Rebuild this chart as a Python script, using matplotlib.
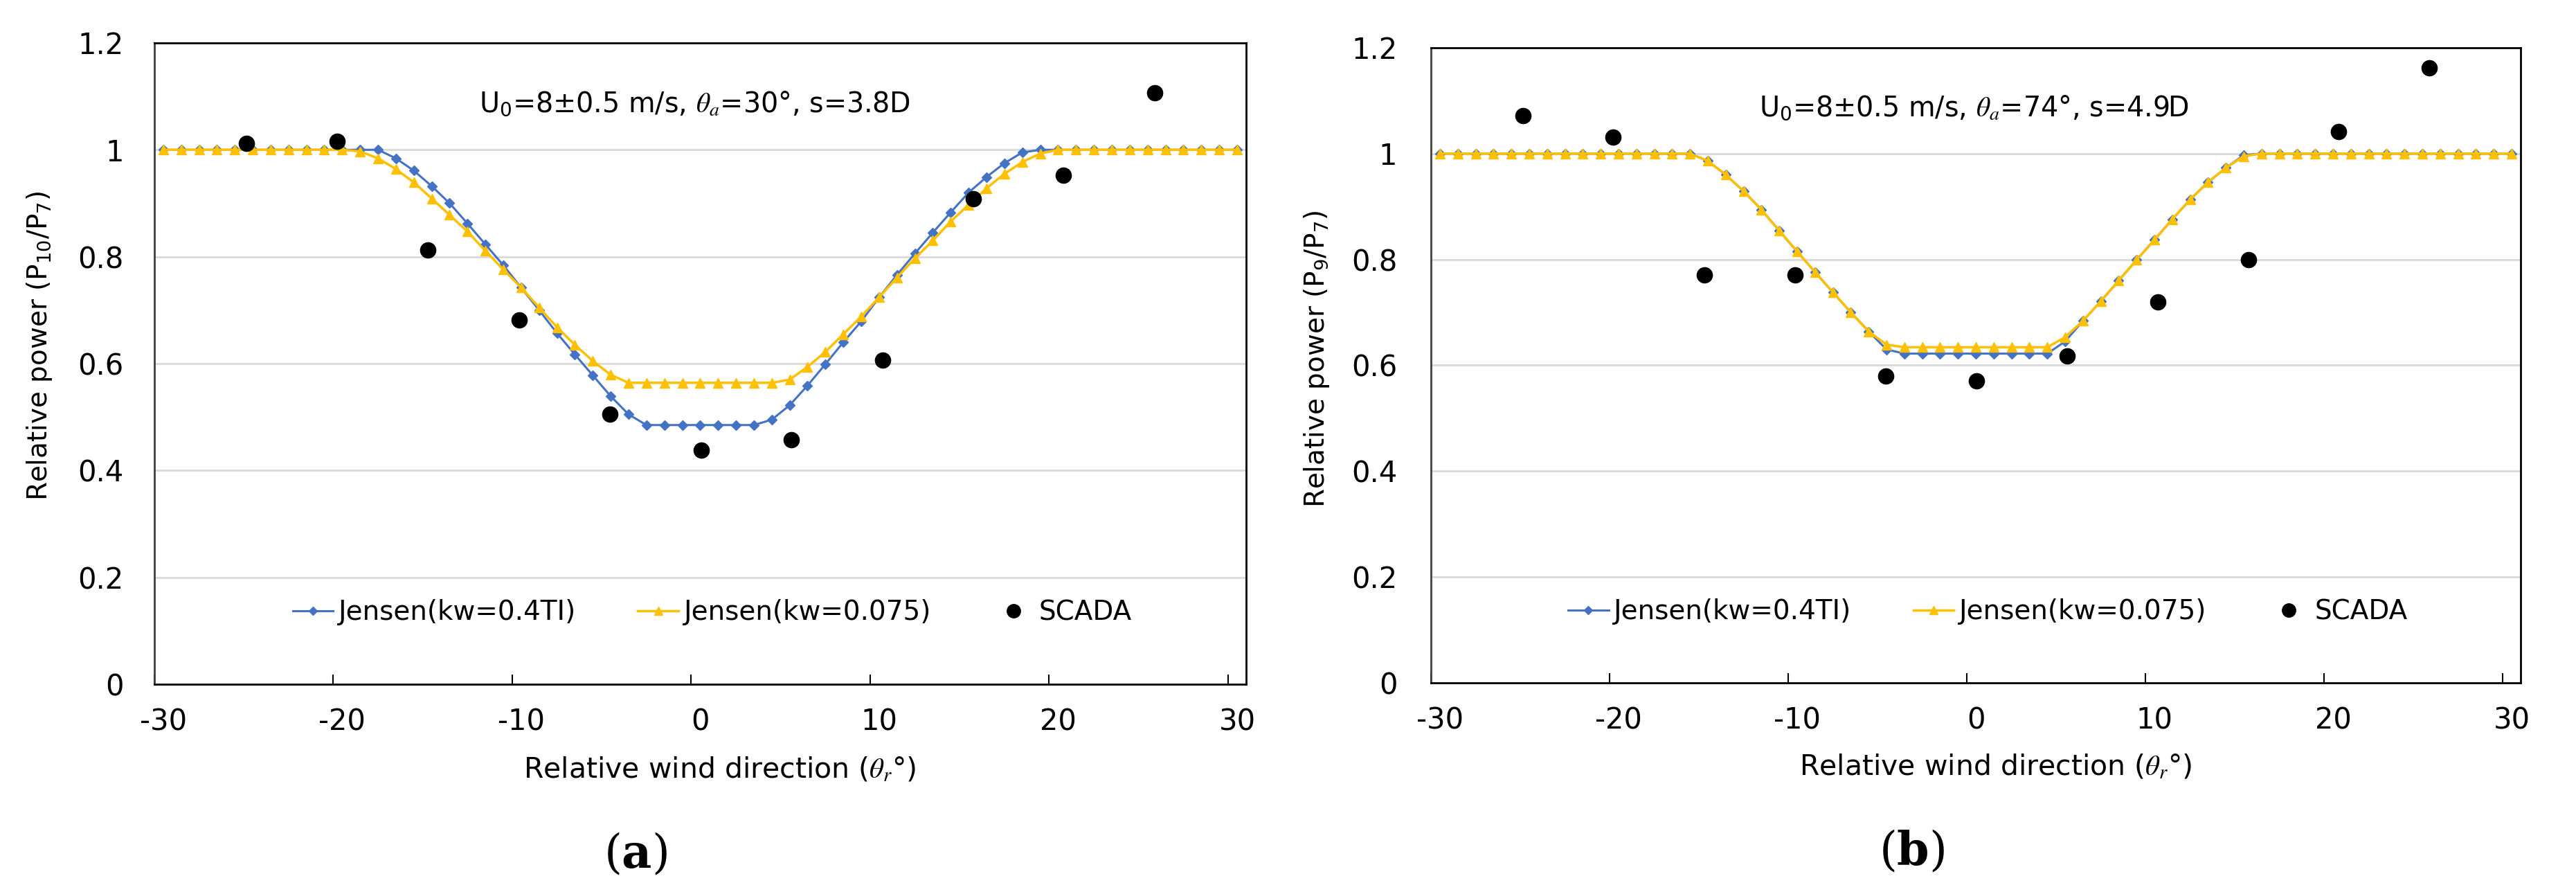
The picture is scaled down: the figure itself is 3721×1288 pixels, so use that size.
import matplotlib
matplotlib.use('Agg')
import matplotlib.pyplot as plt
import numpy as np

plt.rcParams['font.family'] = ['DejaVu Sans']
plt.rcParams['mathtext.fontset'] = 'stix'
plt.rcParams['axes.unicode_minus'] = False

# category positions (relative wind direction, deg)
theta = np.arange(-30, 31)

# panel (a)
jensen_ti_a = [1.0, 1.0, 1.0, 1.0, 1.0, 1.0, 1.0, 1.0, 1.0, 1.0, 1.0, 1.0, 1.0,
               0.984, 0.961, 0.932, 0.900, 0.862, 0.823, 0.784, 0.742, 0.700, 0.657, 0.617, 0.578, 0.539, 0.505,
               0.485, 0.485, 0.485, 0.485, 0.485, 0.485, 0.485,
               0.495, 0.522, 0.559, 0.599, 0.640, 0.679, 0.724, 0.766, 0.806, 0.845, 0.883, 0.920, 0.949, 0.975, 0.995,
               1.0, 1.0, 1.0, 1.0, 1.0, 1.0, 1.0, 1.0, 1.0, 1.0, 1.0, 1.0]
jensen_075_a = [1.0, 1.0, 1.0, 1.0, 1.0, 1.0, 1.0, 1.0, 1.0, 1.0, 1.0,
                0.997, 0.984, 0.964, 0.939, 0.909, 0.878, 0.847, 0.811, 0.776, 0.742, 0.705, 0.668, 0.635, 0.605, 0.579,
                0.564, 0.564, 0.564, 0.564, 0.564, 0.564, 0.564, 0.564, 0.564,
                0.570, 0.594, 0.622, 0.655, 0.688, 0.724, 0.761, 0.797, 0.830, 0.866, 0.897, 0.928, 0.955, 0.977, 0.993,
                1.0, 1.0, 1.0, 1.0, 1.0, 1.0, 1.0, 1.0, 1.0, 1.0, 1.0]
scada_x = [-25.35, -20.3, -15.2, -10.1, -5.05, 0.05, 5.1, 10.2, 15.25, 20.3, 25.4]
scada_a = [1.012, 1.016, 0.813, 0.682, 0.505, 0.438, 0.457, 0.607, 0.908, 0.953, 1.106]

# panel (b)
jensen_ti_b = [1.0, 1.0, 1.0, 1.0, 1.0, 1.0, 1.0, 1.0, 1.0, 1.0, 1.0, 1.0, 1.0, 1.0, 1.0,
               0.986, 0.960, 0.929, 0.894, 0.854, 0.815, 0.776, 0.738, 0.700, 0.664, 0.630,
               0.622, 0.622, 0.622, 0.622, 0.622, 0.622, 0.622, 0.622, 0.622,
               0.645, 0.684, 0.721, 0.760, 0.799, 0.837, 0.876, 0.913, 0.946, 0.973, 0.997,
               1.0, 1.0, 1.0, 1.0, 1.0, 1.0, 1.0, 1.0, 1.0, 1.0, 1.0, 1.0, 1.0, 1.0, 1.0]
jensen_075_b = [1.0, 1.0, 1.0, 1.0, 1.0, 1.0, 1.0, 1.0, 1.0, 1.0, 1.0, 1.0, 1.0, 1.0, 1.0,
                0.986, 0.960, 0.929, 0.894, 0.854, 0.815, 0.776, 0.738, 0.700, 0.664, 0.639,
                0.634, 0.634, 0.634, 0.634, 0.634, 0.634, 0.634, 0.634, 0.634,
                0.653, 0.684, 0.721, 0.760, 0.799, 0.837, 0.876, 0.913, 0.946, 0.973, 0.995,
                1.0, 1.0, 1.0, 1.0, 1.0, 1.0, 1.0, 1.0, 1.0, 1.0, 1.0, 1.0, 1.0, 1.0, 1.0]
scada_b = [1.072, 1.031, 0.771, 0.771, 0.580, 0.570, 0.617, 0.720, 0.800, 1.041, 1.162]

xtick_vals = [-30, -20, -10, 0, 10, 20, 30]
ytick_vals = [0, 0.2, 0.4, 0.6, 0.8, 1.0, 1.2]
ytick_labels = ['0', '0.2', '0.4', '0.6', '0.8', '1', '1.2']

notes = [r'U$\mathregular{_0}$=8±0.5 m/s, $\theta_a$=30°, s=3.8D',
         r'U$\mathregular{_0}$=8±0.5 m/s, $\theta_a$=74°, s=4.9D']
ylabels = [r'Relative power (P$\mathregular{_{10}}$/P$\mathregular{_7}$)',
           r'Relative power (P$\mathregular{_9}$/P$\mathregular{_7}$)']

BLUE = '#4472C4'
YELLOW = '#FFC000'

fig = plt.figure(figsize=(37.21, 12.88), dpi=100)
ax_a = fig.add_axes([0.0599, 0.2329, 0.4238, 0.7190])
ax_b = fig.add_axes([0.5555, 0.2345, 0.4230, 0.7120])

panels = [(ax_a, jensen_ti_a, jensen_075_a, scada_a, 32, -0.3, 0.528),
          (ax_b, jensen_ti_b, jensen_075_b, scada_b, 35, -0.1, 0.510)]

for i, (ax, ti, k075, sc, ypad, note_x, ylab_y) in enumerate(panels):
    ax.plot(theta, ti, color=BLUE, lw=2.2, marker='D', ms=7.5, label='Jensen(kw=0.4TI)')
    ax.plot(theta, k075, color=YELLOW, lw=2.5, marker='^', ms=10, label='Jensen(kw=0.075)')
    ax.plot(scada_x, sc, ls='none', marker='o', ms=16, color='black', label='SCADA')

    ax.set_xlim(-30.5, 30.5)
    ax.set_ylim(0, 1.2)
    ax.set_xticks(xtick_vals)
    ax.set_xticks(np.arange(-30.5, 30, 10), minor=True)
    ax.set_yticks(ytick_vals)
    ax.set_yticklabels(ytick_labels)
    ax.tick_params(axis='x', which='major', length=0, pad=24, labelsize=30)
    ax.tick_params(axis='x', which='minor', direction='in', length=10, width=1.5)
    ax.tick_params(axis='y', length=0, pad=ypad, labelsize=30)
    ax.yaxis.grid(True, color='#D9D9D9', lw=2)
    ax.set_axisbelow(True)
    for s in ax.spines.values():
        s.set_color('black')
        s.set_linewidth(2)
    ax.spines['left'].set_color('#404040')

    ax.text(note_x, 1.086, notes[i], ha='center', va='center', fontsize=28.5)
    ax.text(0.518, -0.133, r'Relative wind direction ($\theta_r$°)', transform=ax.transAxes,
            ha='center', va='center', fontsize=29.5)
    ax.text(-0.105, ylab_y, ylabels[i], transform=ax.transAxes, rotation=90,
            ha='center', va='center', fontsize=28)

    leg = ax.legend(loc='center', bbox_to_anchor=(0.511, 0.112), ncol=3, frameon=False,
                    fontsize=28, handlelength=1.5, handletextpad=0.2, columnspacing=2.3)
    for h, ms in zip(leg.legend_handles, [6, 8, 14]):
        h.set_markersize(ms)

fig.text(0.2467, 0.0419, r'($\mathbf{a}$)', ha='center', va='center', fontsize=48,
         family='DejaVu Serif', math_fontfamily='dejavuserif')
fig.text(0.7423, 0.045, r'($\mathbf{b}$)', ha='center', va='center', fontsize=48,
         family='DejaVu Serif', math_fontfamily='dejavuserif')

fig.savefig('out.png', dpi=100)
